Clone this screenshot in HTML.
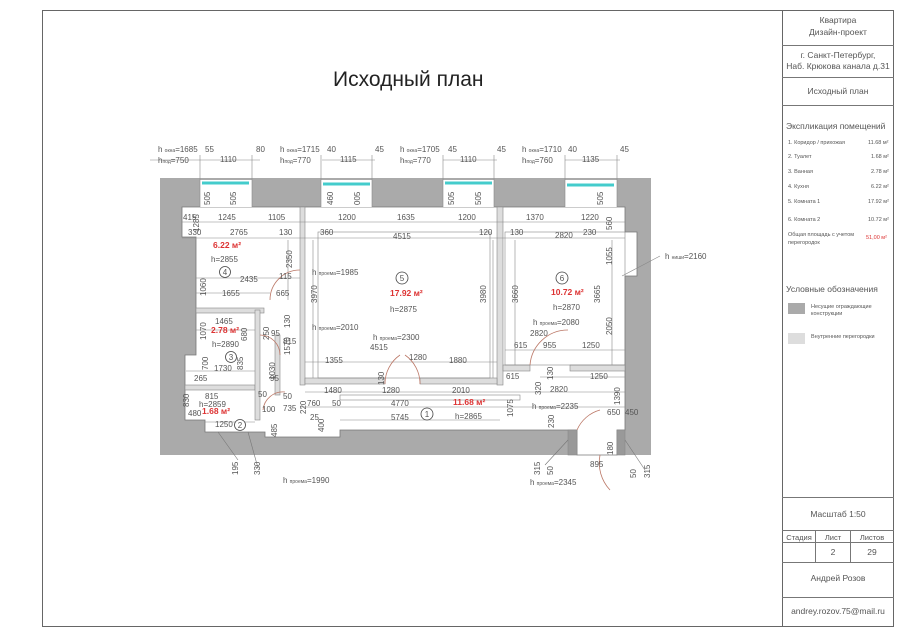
<!DOCTYPE html>
<html><head><meta charset="utf-8"><style>
html,body{margin:0;padding:0;background:#fff;}
svg{display:block}
text{font-family:"Liberation Sans","DejaVu Sans",sans-serif;fill:#555;}
.d{font-size:8px;}
.r{fill:#d33;font-weight:bold;font-size:8.5px;}
.sb{font-size:5px;}
</style></head><body>
<svg width="900" height="636" viewBox="0 0 900 636" xmlns="http://www.w3.org/2000/svg">
<rect x="42.5" y="10.5" width="851" height="616" fill="none" stroke="#666" stroke-width="1"/>
<line x1="782.5" y1="10" x2="782.5" y2="627" stroke="#666"/>
<g stroke="#777" stroke-width="1">
<line x1="782" y1="45.5" x2="894" y2="45.5"/><line x1="782" y1="77.5" x2="894" y2="77.5"/>
<line x1="782" y1="105.5" x2="894" y2="105.5"/><line x1="782" y1="497.5" x2="894" y2="497.5"/>
<line x1="782" y1="530.5" x2="894" y2="530.5"/><line x1="782" y1="542.5" x2="894" y2="542.5"/>
<line x1="782" y1="562.5" x2="894" y2="562.5"/><line x1="782" y1="597.5" x2="894" y2="597.5"/>
<line x1="815.5" y1="530" x2="815.5" y2="562"/><line x1="850.5" y1="530" x2="850.5" y2="562"/>
</g>
<g font-size="8.5" text-anchor="middle">
<text x="838" y="23">Квартира</text><text x="838" y="35">Дизайн-проект</text>
<text x="838" y="58">г. Санкт-Петербург,</text><text x="838" y="69">Наб. Крюкова канала д.31</text>
<text x="838" y="94">Исходный план</text>
<text x="838" y="517">Масштаб 1:50</text>
<text x="799" y="540" font-size="7.5">Стадия</text><text x="833" y="540" font-size="7.5">Лист</text><text x="872" y="540" font-size="7.5">Листов</text>
<text x="833" y="555">2</text><text x="872" y="555">29</text>
<text x="838" y="581">Андрей Розов</text>
<text x="838" y="614">andrey.rozov.75@mail.ru</text>
</g>
<text x="786" y="129" font-size="8.5">Экспликация помещений</text>
<g font-size="5.5">
<text x="788" y="144">1. Коридор / прихожая</text><text x="868" y="144">11.68 м²</text>
<text x="788" y="158">2. Туалет</text><text x="871" y="158">1.68 м²</text>
<text x="788" y="173">3. Ванная</text><text x="871" y="173">2.78 м²</text>
<text x="788" y="188">4. Кухня</text><text x="871" y="188">6.22 м²</text>
<text x="788" y="203">5. Комната 1</text><text x="868" y="203">17.92 м²</text>
<text x="788" y="221">6. Комната 2</text><text x="868" y="221">10.72 м²</text>
<text x="788" y="236">Общая площадь с учетом</text><text x="788" y="244">перегородок</text>
<text x="866" y="239" style="fill:#d33">51,00 м²</text>
<text x="811" y="308">Несущие ограждающие</text><text x="811" y="315">конструкции</text>
<text x="811" y="338">Внутренние перегородки</text>
</g>
<text x="786" y="292" font-size="8.5">Условные обозначения</text>
<rect x="788" y="303" width="17" height="11" fill="#aaa"/>
<rect x="788" y="333" width="17" height="11" fill="#ddd"/>

<text x="333" y="86" font-size="21" style="fill:#222;font-weight:300">Исходный план</text>

<rect x="160" y="178" width="491" height="277" fill="#aaa"/>
<polygon points="182,207 625,207 625,232 637,232 637,276 625,276 625,430 617,430 617,455 577,455 577,430 340,430 340,437 265,437 265,432 205,432 205,420 185,420 185,355 196,355 196,237 182,237" fill="#fff" stroke="#777" stroke-width="0.8"/>
<g fill="#fff"><rect x="200" y="180" width="52" height="27"/><rect x="321" y="180" width="51" height="27"/><rect x="443" y="180" width="51" height="27"/><rect x="565" y="180" width="52" height="27"/></g>
<g stroke="#4cc" stroke-width="3"><line x1="202" y1="183" x2="249" y2="183"/><line x1="323" y1="184" x2="370" y2="184"/><line x1="445" y1="183" x2="492" y2="183"/><line x1="567" y1="185" x2="614" y2="185"/></g>
<g fill="#ddd" stroke="#888" stroke-width="0.6">
<rect x="300" y="207" width="5" height="178"/>
<rect x="497" y="207" width="6" height="178"/>
<rect x="305" y="378" width="80" height="6"/><rect x="420" y="378" width="77" height="6"/>
<rect x="503" y="365" width="27" height="6"/><rect x="570" y="365" width="55" height="6"/>
<rect x="196" y="308" width="68" height="5"/>
<rect x="185" y="385" width="70" height="5"/>
<rect x="255" y="310" width="5" height="110"/>
<rect x="275" y="335" width="5" height="60"/>
<rect x="318" y="232" width="172" height="146" fill="none"/>
<rect x="505" y="232" width="120" height="133" fill="none"/>
<rect x="340" y="395" width="180" height="5" fill="none"/>
<rect x="568" y="430" width="9" height="25" fill="#999"/>
<rect x="617" y="430" width="8" height="25" fill="#999"/>
</g>
<g stroke="#888" stroke-width="0.6" fill="none">
<line x1="182" y1="222" x2="625" y2="222"/><line x1="182" y1="238" x2="625" y2="238"/>
<line x1="196" y1="278" x2="300" y2="278"/><line x1="196" y1="293" x2="270" y2="293"/>
<line x1="196" y1="330" x2="255" y2="330"/><line x1="305" y1="362" x2="497" y2="362"/>
<line x1="186" y1="371" x2="255" y2="371"/><line x1="305" y1="392" x2="625" y2="392"/>
<line x1="300" y1="407" x2="625" y2="407"/><line x1="340" y1="420" x2="500" y2="420"/>
<line x1="505" y1="350" x2="625" y2="350"/><line x1="540" y1="377" x2="625" y2="377"/>
<line x1="205" y1="422" x2="255" y2="422"/>
<line x1="150" y1="160" x2="260" y2="160"/><line x1="322" y1="160" x2="375" y2="160"/>
<line x1="443" y1="160" x2="497" y2="160"/><line x1="565" y1="160" x2="620" y2="160"/>
<line x1="200" y1="155" x2="200" y2="207"/><line x1="252" y1="155" x2="252" y2="207"/>
<line x1="321" y1="155" x2="321" y2="207"/><line x1="372" y1="155" x2="372" y2="207"/>
<line x1="443" y1="155" x2="443" y2="207"/><line x1="494" y1="155" x2="494" y2="207"/>
<line x1="565" y1="155" x2="565" y2="207"/><line x1="617" y1="155" x2="617" y2="207"/>
<line x1="313" y1="240" x2="313" y2="378"/><line x1="493" y1="240" x2="493" y2="378"/>
<line x1="515" y1="240" x2="515" y2="365"/><line x1="612" y1="240" x2="612" y2="365"/>
<line x1="288" y1="240" x2="288" y2="300"/>
<line x1="622" y1="276" x2="660" y2="256"/>
</g>
<g stroke="#b76" stroke-width="0.8" fill="none">
<path d="M270 300 A30 30 0 0 1 300 270"/><path d="M385 384 A35 35 0 0 1 400 355 M420 384 A35 35 0 0 0 405 355"/>
<path d="M530 365 A38 38 0 0 1 568 330"/><path d="M577 430 A35 35 0 0 1 600 410"/>
<path d="M600 455 A40 40 0 0 0 610 490"/><path d="M263 410 A20 20 0 0 1 285 392"/>
<path d="M260 335 A20 20 0 0 1 280 355"/>
</g>
<g fill="#fff" stroke="#444" stroke-width="0.8">
<circle cx="225" cy="272" r="5.5"/><circle cx="402" cy="278" r="6"/><circle cx="562" cy="278" r="6"/>
<circle cx="231" cy="357" r="5.5"/><circle cx="427" cy="414" r="6"/><circle cx="240" cy="425" r="5.5"/>
</g>
<g font-size="8" text-anchor="middle" style="fill:#333">
<text x="225" y="275">4</text><text x="402" y="281">5</text><text x="562" y="281">6</text><text x="231" y="360">3</text><text x="427" y="417">1</text><text x="240" y="428">2</text>
</g>
<text class="r" x="213" y="248">6.22 м²</text><text class="d" x="211" y="262">h=2855</text>
<text class="r" x="390" y="296">17.92 м²</text><text class="d" x="390" y="312">h=2875</text>
<text class="r" x="551" y="295">10.72 м²</text><text class="d" x="553" y="310">h=2870</text>
<text class="r" x="211" y="333">2.78 м²</text><text class="d" x="212" y="347">h=2890</text>
<text class="r" x="453" y="405">11.68 м²</text><text class="d" x="455" y="419">h=2865</text>
<text class="r" x="202" y="414">1.68 м²</text><text class="d" x="199" y="407">h=2859</text>
<g class="d">
<text x="158" y="152">h <tspan class="sb">окна</tspan>=1685</text><text x="158" y="163">h<tspan class="sb">под</tspan>=750</text>
<text x="205" y="152">55</text><text x="220" y="162">1110</text><text x="256" y="152">80</text>
<text x="280" y="152">h <tspan class="sb">окна</tspan>=1715</text><text x="280" y="163">h<tspan class="sb">под</tspan>=770</text>
<text x="327" y="152">40</text><text x="340" y="162">1115</text><text x="375" y="152">45</text>
<text x="400" y="152">h <tspan class="sb">окна</tspan>=1705</text><text x="400" y="163">h<tspan class="sb">под</tspan>=770</text>
<text x="448" y="152">45</text><text x="460" y="162">1110</text><text x="497" y="152">45</text>
<text x="522" y="152">h <tspan class="sb">окна</tspan>=1710</text><text x="522" y="163">h<tspan class="sb">под</tspan>=760</text>
<text x="568" y="152">40</text><text x="582" y="162">1135</text><text x="620" y="152">45</text>
<text x="183" y="220">415</text><text x="218" y="220">1245</text><text x="268" y="220">1105</text>
<text x="338" y="220">1200</text><text x="397" y="220">1635</text><text x="458" y="220">1200</text>
<text x="526" y="220">1370</text><text x="581" y="220">1220</text>
<text x="188" y="235">330</text><text x="230" y="235">2765</text><text x="279" y="235">130</text>
<text x="320" y="235">360</text><text x="393" y="239">4515</text><text x="479" y="235">120</text>
<text x="510" y="235">130</text><text x="555" y="238">2820</text><text x="583" y="235">230</text>
<text x="240" y="282">2435</text><text x="279" y="279">115</text>
<text x="222" y="296">1655</text><text x="276" y="296">665</text>
<text x="215" y="324">1465</text><text x="271" y="336">95</text><text x="283" y="344">815</text>
<text x="325" y="363">1355</text><text x="370" y="350">4515</text><text x="409" y="360">1280</text><text x="449" y="363">1880</text>
<text x="214" y="371">1730</text><text x="194" y="381">265</text>
<text x="324" y="393">1480</text><text x="382" y="393">1280</text><text x="452" y="393">2010</text>
<text x="307" y="406">760</text><text x="332" y="406">50</text><text x="391" y="406">4770</text>
<text x="391" y="420">5745</text><text x="310" y="420">25</text>
<text x="205" y="399">815</text><text x="188" y="416">480</text><text x="215" y="427">1250</text>
<text x="258" y="397">50</text><text x="262" y="412">100</text><text x="283" y="399">50</text><text x="283" y="411">735</text>
<text x="270" y="381">95</text>
<text x="514" y="348">615</text><text x="543" y="348">955</text><text x="582" y="348">1250</text>
<text x="530" y="336">2820</text><text x="506" y="379">615</text><text x="550" y="392">2820</text><text x="590" y="379">1250</text>
<text x="607" y="415">650</text><text x="625" y="415">450</text><text x="590" y="467">895</text>
<text x="312" y="275">h <tspan class="sb">проема</tspan>=1985</text><text x="312" y="330">h <tspan class="sb">проема</tspan>=2010</text>
<text x="373" y="340">h <tspan class="sb">проема</tspan>=2300</text><text x="533" y="325">h <tspan class="sb">проема</tspan>=2080</text>
<text x="532" y="409">h <tspan class="sb">проема</tspan>=2235</text><text x="530" y="485">h <tspan class="sb">проема</tspan>=2345</text>
<text x="283" y="483">h <tspan class="sb">проема</tspan>=1990</text><text x="665" y="259">h <tspan class="sb">ниши</tspan>=2160</text>
</g>
<g class="d">
<text transform="translate(210,205) rotate(-90)">505</text><text transform="translate(236,205) rotate(-90)">505</text>
<text transform="translate(333,205) rotate(-90)">460</text><text transform="translate(360,205) rotate(-90)">005</text>
<text transform="translate(454,205) rotate(-90)">505</text><text transform="translate(481,205) rotate(-90)">505</text>
<text transform="translate(603,205) rotate(-90)">505</text><text transform="translate(612,230) rotate(-90)">560</text>
<text transform="translate(199,232) rotate(-90)">1285</text>
<text transform="translate(292,268) rotate(-90)">2350</text><text transform="translate(317,303) rotate(-90)">3970</text>
<text transform="translate(486,303) rotate(-90)">3980</text><text transform="translate(518,303) rotate(-90)">3660</text>
<text transform="translate(600,303) rotate(-90)">3665</text><text transform="translate(612,265) rotate(-90)">1055</text>
<text transform="translate(612,335) rotate(-90)">2050</text>
<text transform="translate(206,296) rotate(-90)">1060</text><text transform="translate(206,340) rotate(-90)">1070</text>
<text transform="translate(247,341) rotate(-90)">680</text><text transform="translate(269,340) rotate(-90)">250</text>
<text transform="translate(290,328) rotate(-90)">130</text><text transform="translate(290,355) rotate(-90)">1570</text>
<text transform="translate(243,370) rotate(-90)">835</text><text transform="translate(208,370) rotate(-90)">700</text>
<text transform="translate(275,380) rotate(-90)">1030</text><text transform="translate(189,407) rotate(-90)">830</text>
<text transform="translate(384,385) rotate(-90)">130</text><text transform="translate(306,414) rotate(-90)">220</text>
<text transform="translate(277,437) rotate(-90)">485</text><text transform="translate(324,432) rotate(-90)">400</text>
<text transform="translate(513,417) rotate(-90)">1075</text><text transform="translate(541,395) rotate(-90)">320</text>
<text transform="translate(553,380) rotate(-90)">130</text><text transform="translate(554,428) rotate(-90)">230</text>
<text transform="translate(620,405) rotate(-90)">1390</text><text transform="translate(613,455) rotate(-90)">180</text>
<text transform="translate(238,475) rotate(-90)">195</text><text transform="translate(260,475) rotate(-90)">330</text>
<text transform="translate(540,475) rotate(-90)">315</text><text transform="translate(553,475) rotate(-90)">50</text>
<text transform="translate(636,478) rotate(-90)">50</text><text transform="translate(650,478) rotate(-90)">315</text>
</g>
<g stroke="#777" stroke-width="0.6">
<line x1="218" y1="432" x2="238" y2="460"/><line x1="248" y1="432" x2="258" y2="468"/>
<line x1="568" y1="440" x2="545" y2="465"/><line x1="625" y1="440" x2="645" y2="470"/>
</g>
</svg>
</body></html>
